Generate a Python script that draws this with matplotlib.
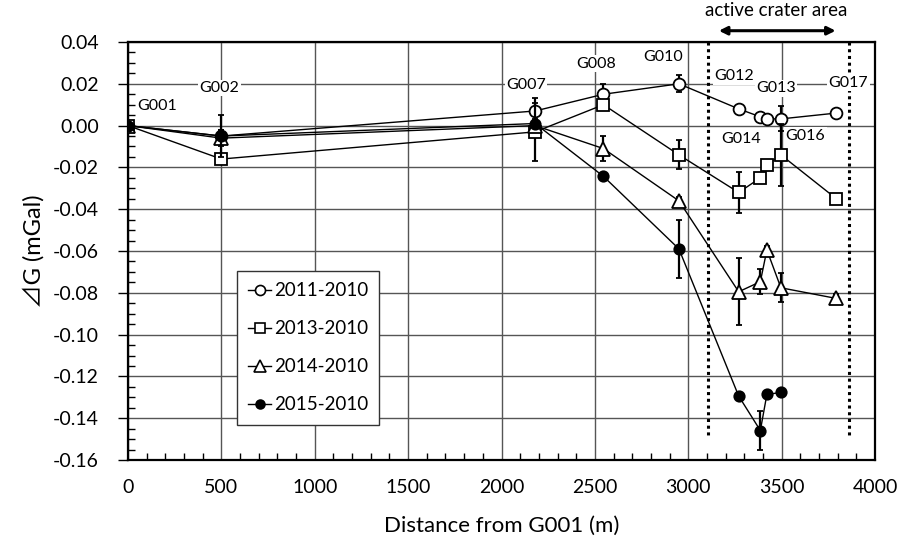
import matplotlib
matplotlib.use("Agg")
import matplotlib.pyplot as plt
from matplotlib.lines import Line2D
from matplotlib.ticker import MultipleLocator, FormatStrFormatter

plt.rcParams['font.family'] = ['Lato', 'DejaVu Sans']
plt.rcParams['axes.unicode_minus'] = False

# station distances (m) in survey order
stations = ["G001", "G002", "G007", "G008", "G010", "G012", "G014", "G013", "G016", "G017"]
dist = [0, 500, 2180, 2546, 2950, 3270, 3386, 3421, 3496, 3793]

dg_2011 = [0, -0.005, 0.007, 0.015, 0.020, 0.008, 0.0042, 0.0032, 0.0032, 0.006]
err_2011 = [0.001, 0.003, 0.006, 0.005, 0.004, 0.002, 0.002, 0.002, 0.006, 0.002]
dg_2013 = [0, -0.016, -0.003, 0.010, -0.014, -0.032, -0.025, -0.019, -0.014, -0.035]
err_2013 = [0.001, 0.002, 0.014, 0.002, 0.007, 0.010, 0.002, 0.002, 0.015, 0.002]
dg_2014 = [0, -0.006, 0.0, -0.011, -0.036, -0.0795, -0.0747, -0.0595, -0.0776, -0.0827]
err_2014 = [0.001, 0.004, 0.002, 0.006, 0.002, 0.016, 0.006, 0.002, 0.007, 0.002]
dist_2015 = dist[:-1]
dg_2015 = [0, -0.005, 0.001, -0.0243, -0.059, -0.1294, -0.1459, -0.1286, -0.1277]
err_2015 = [0.001, 0.010, 0.002, 0.001, 0.014, 0.002, 0.0095, 0.001, 0.001]

# station label positions (distance, value)
label_x = [48, 488, 2132, 2505, 2868, 3245, 3282, 3471, 3627, 3857]
label_y = [0.0092, 0.018, 0.0193, 0.0296, 0.033, 0.0237, -0.0064, 0.0178, -0.0048, 0.0205]
label_ha = ['left', 'center', 'center', 'center', 'center', 'center', 'center', 'center', 'center', 'center']

crater_x = [3104, 3859]

fig = plt.figure(figsize=(9.11, 5.44), dpi=100)
ax = fig.add_axes([0.1405, 0.1544, 0.82, 0.7684])

series = [
    (dist, dg_2011, err_2011, 'o', 'white', 8.5, "2011-2010"),
    (dist, dg_2013, err_2013, 's', 'white', 8.5, "2013-2010"),
    (dist, dg_2014, err_2014, '^', 'white', 10, "2014-2010"),
    (dist_2015, dg_2015, err_2015, 'o', 'black', 7.5, "2015-2010"),
]
handles = []
for i, (x, y, e, m, fc, ms, lab) in enumerate(series):
    ax.errorbar(x, y, yerr=e, fmt='-', color='black', lw=1.0, elinewidth=1.6,
                capsize=2.5, capthick=1.6, marker=m, markersize=ms,
                markerfacecolor=fc, markeredgecolor='black', markeredgewidth=1.3,
                zorder=3 + i)
    handles.append(Line2D([], [], color='black', lw=1.0, marker=m,
                          markersize=ms * 0.85, markerfacecolor=fc,
                          markeredgecolor='black', markeredgewidth=1.2, label=lab))

for xc in crater_x:
    ax.plot([xc, xc], [0.04, -0.148], color='black', lw=2.2, ls=(0, (1, 1.2)), zorder=2)

for name, lx, ly, ha in zip(stations, label_x, label_y, label_ha):
    ax.text(lx, ly, name, ha=ha, va='center', fontsize=11.5, zorder=2,
            bbox=dict(facecolor='white', edgecolor='none', pad=1.0))

ax.annotate('', xy=(crater_x[0] + 45, 0.0454), xytext=(crater_x[1] - 55, 0.0454),
            xycoords='data', annotation_clip=False,
            arrowprops=dict(arrowstyle='<|-|>', color='black', lw=2.2,
                            mutation_scale=12))
ax.text(3470, 0.0553, "active crater area", ha='center', va='center',
        fontsize=13.5, clip_on=False)

ax.set_xlim(0, 4000)
ax.set_ylim(-0.16, 0.04)
ax.xaxis.set_major_locator(MultipleLocator(500))
ax.xaxis.set_minor_locator(MultipleLocator(100))
ax.yaxis.set_major_locator(MultipleLocator(0.02))
ax.yaxis.set_minor_locator(MultipleLocator(0.005))
ax.yaxis.set_major_formatter(FormatStrFormatter('%.2f'))
ax.grid(True, which='major', color='#555555', lw=1.0, zorder=0)
ax.set_axisbelow(True)
ax.tick_params(which='major', direction='out', length=7, width=1, labelsize=14)
ax.tick_params(axis='y', which='major', pad=14)
ax.tick_params(which='minor', direction='in', length=5, width=1)
ax.tick_params(axis='x', which='major', length=0, pad=14)
for s in ax.spines.values():
    s.set_linewidth(1.6)
    s.set_color('black')

ax.set_xlabel("Distance from G001 (m)", fontsize=16, labelpad=14)
ax.set_ylabel("⊿G (mGal)", fontsize=17, labelpad=6,
              family=['Lato', 'Noto Sans CJK JP'])

leg = ax.legend(handles=handles, loc='upper left', bbox_to_anchor=(0.146, 0.452),
                fontsize=13.5, handlelength=1.2, handletextpad=0.15, labelspacing=1.12,
                borderpad=0.6, borderaxespad=0, fancybox=False, framealpha=1)
leg.get_frame().set_edgecolor('#333333')
leg.get_frame().set_linewidth(1.0)

fig.savefig("out.png", dpi=100)
